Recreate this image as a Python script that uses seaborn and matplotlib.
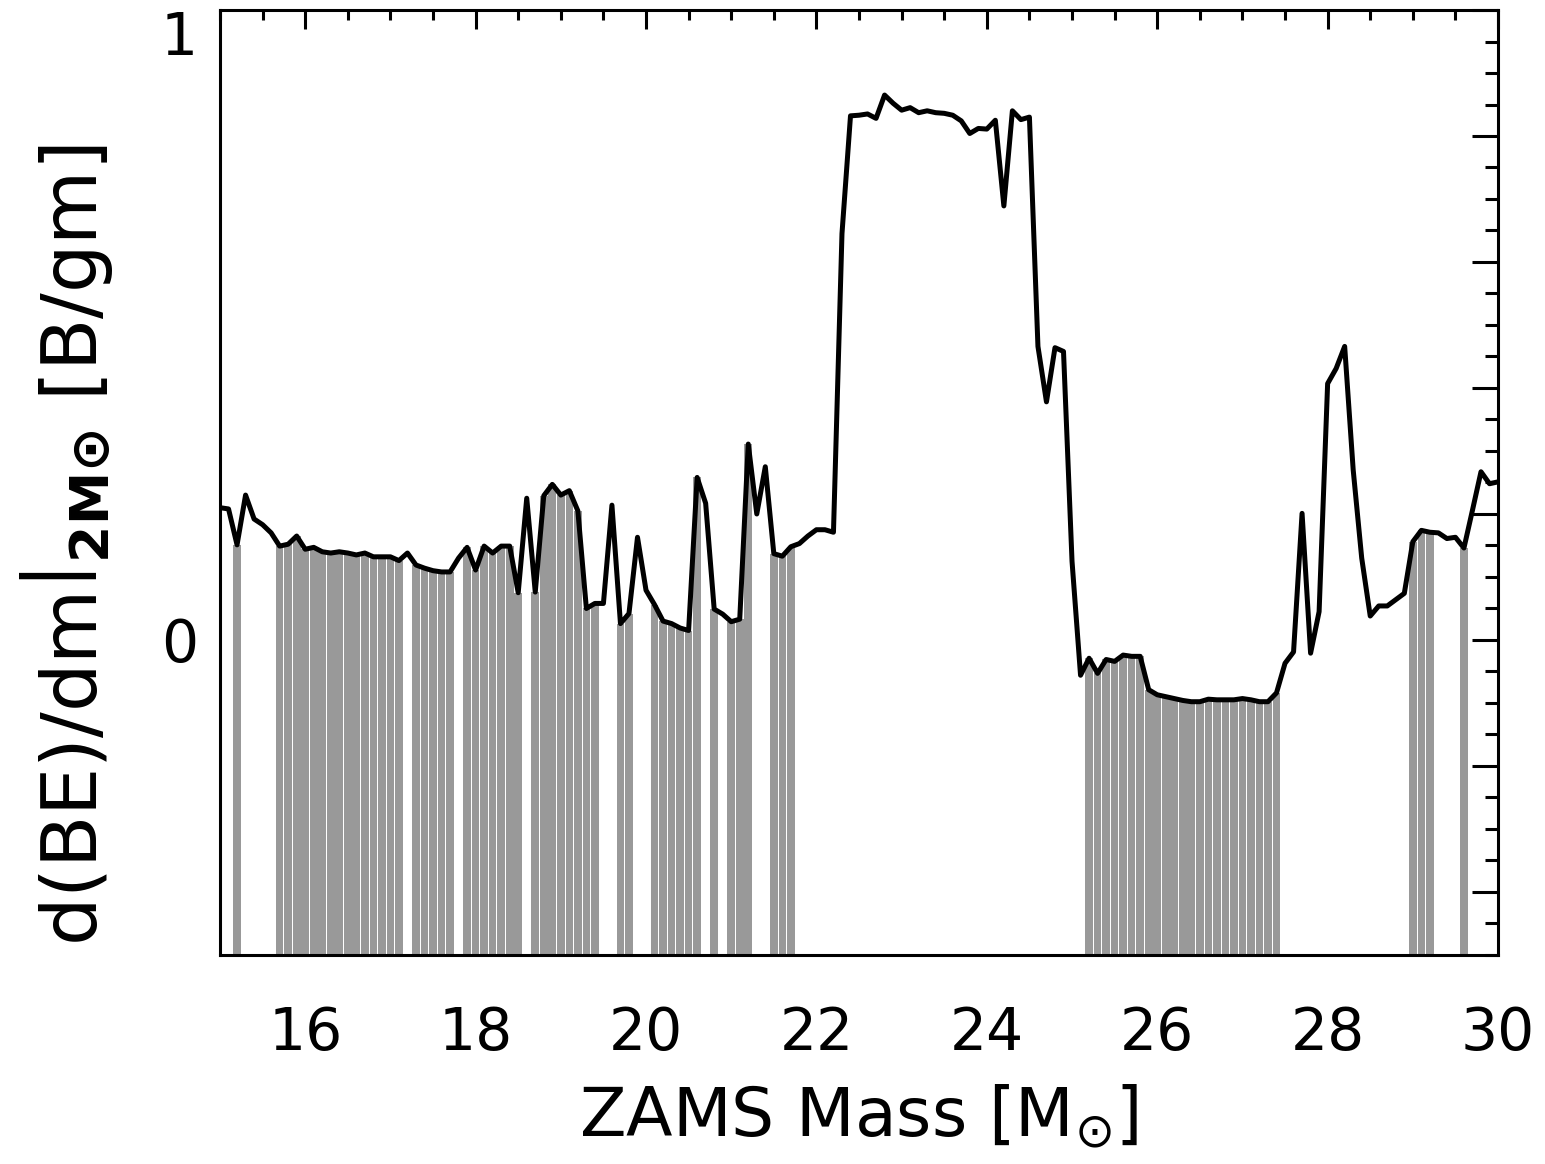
import numpy as np
import matplotlib
matplotlib.use('Agg')
import matplotlib.pyplot as plt
from matplotlib.ticker import MultipleLocator
import seaborn as sns

sns.set_theme(style='white')
plt.rcParams['font.family'] = ['DejaVu Sans']
plt.rcParams['mathtext.fontset'] = 'dejavusans'
plt.rcParams['text.color'] = 'black'
plt.rcParams['axes.labelcolor'] = 'black'

# ZAMS mass grid, 15 to 30 Msun in steps of 0.1
mass = np.round(np.arange(150, 301) * 0.1, 1)

# d(BE)/dm at 2 Msun [B/gm]
dbe = [
    0.210, 0.208, 0.151, 0.230, 0.192, 0.183, 0.170, 0.149, 0.152, 0.165,  # 15.0-15.9
    0.144, 0.147, 0.140, 0.138, 0.140, 0.138, 0.135, 0.138, 0.132, 0.132,  # 16.0-16.9
    0.132, 0.126, 0.138, 0.119, 0.114, 0.110, 0.108, 0.108, 0.130, 0.147,  # 17.0-17.9
    0.111, 0.149, 0.138, 0.149, 0.149, 0.075, 0.225, 0.076, 0.229, 0.247,  # 18.0-18.9
    0.230, 0.237, 0.205, 0.050, 0.058, 0.058, 0.214, 0.026, 0.042, 0.163,  # 19.0-19.9
    0.079, 0.056, 0.030, 0.026, 0.019, 0.015, 0.258, 0.217, 0.049, 0.041,  # 20.0-20.9
    0.029, 0.033, 0.311, 0.200, 0.275, 0.137, 0.133, 0.148, 0.153, 0.165,  # 21.0-21.9
    0.175, 0.175, 0.171, 0.645, 0.832, 0.833, 0.835, 0.828, 0.865, 0.852,  # 22.0-22.9
    0.841, 0.845, 0.837, 0.840, 0.837, 0.836, 0.833, 0.824, 0.804, 0.812,  # 23.0-23.9
    0.811, 0.825, 0.689, 0.840, 0.826, 0.830, 0.466, 0.378, 0.464, 0.458,  # 24.0-24.9
    0.125, -0.056, -0.029, -0.053, -0.031, -0.034, -0.024, -0.026, -0.026, -0.079,  # 25.0-25.9
    -0.087, -0.090, -0.093, -0.096, -0.098, -0.098, -0.094, -0.095, -0.095, -0.095,  # 26.0-26.9
    -0.093, -0.095, -0.098, -0.098, -0.084, -0.037, -0.019, 0.201, -0.021, 0.045,  # 27.0-27.9
    0.407, 0.431, 0.466, 0.270, 0.130, 0.038, 0.054, 0.054, 0.064, 0.074,  # 28.0-28.9
    0.156, 0.174, 0.171, 0.170, 0.161, 0.163, 0.146, 0.206, 0.267, 0.248,  # 29.0-29.9
    0.251,  # 30.0
]

# mass ranges drawn with grey bars
shaded_ranges = [
    (15.2, 15.2), (15.7, 17.1), (17.3, 17.7), (17.9, 18.5), (18.7, 19.4),
    (19.7, 19.8), (20.1, 20.6), (20.8, 20.8), (21.0, 21.2), (21.5, 21.7),
    (25.2, 27.4), (29.0, 29.2), (29.6, 29.6),
]

ymin, ymax = -0.5, 1.0
dbe = np.array(dbe)
shaded = np.zeros(len(mass), dtype=bool)
for lo, hi in shaded_ranges:
    shaded |= (mass >= lo - 1e-6) & (mass <= hi + 1e-6)

fig = plt.figure(figsize=(15.45, 11.64), dpi=100)
ax = fig.add_axes([0.1424, 0.1796, 0.8272, 0.8118])

ax.bar(mass[shaded], dbe[shaded] - ymin, bottom=ymin, width=0.09,
       color='#999999', edgecolor='none', zorder=1)
sns.lineplot(x=mass, y=dbe, color='black', linewidth=3.6, ax=ax, zorder=3)

ax.set_xlim(15, 30)
ax.set_ylim(ymin, ymax)

ax.xaxis.set_major_locator(MultipleLocator(2))
ax.xaxis.set_minor_locator(MultipleLocator(0.5))
ax.yaxis.set_minor_locator(MultipleLocator(0.05))
yt = np.round(np.arange(-0.4, 1.01, 0.2), 1)
ax.set_yticks(yt, ['1' if v == 1.0 else '0' if v == 0.0 else '' for v in yt])
for lab in ax.get_yticklabels():
    if lab.get_text() == '1':
        lab.set_va('top')

ax.tick_params(axis='both', which='both', direction='in', top=True, right=True,
               width=2.2, colors='black', labelsize=42)
ax.tick_params(axis='x', which='major', length=14, pad=36)
ax.tick_params(axis='x', which='minor', length=7)
ax.tick_params(axis='y', which='major', length=19, pad=16)
ax.tick_params(axis='y', which='minor', length=9.5)

for s in ax.spines.values():
    s.set_linewidth(2.2)
    s.set_color('black')

ax.set_xlabel('ZAMS Mass [$\\mathregular{M_{⊙}}$]', fontsize=49)
ax.set_ylabel('d(BE)/dm$\\left|\\right._{\\mathbf{2M⊙}}$ [B/gm]', fontsize=55)
ax.xaxis.set_label_coords(0.5, -0.135)
ax.yaxis.set_label_coords(-0.082, 0.434)

plt.savefig('out.png', dpi=100)
plt.close()
